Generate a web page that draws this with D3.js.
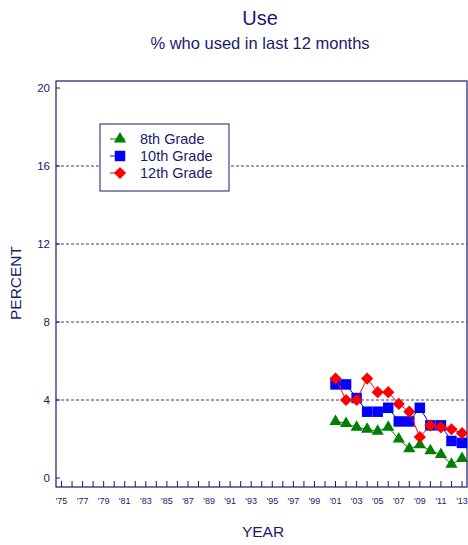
<!DOCTYPE html>
<html>
<head>
<meta charset="utf-8">
<script src="https://cdn.jsdelivr.net/npm/d3@7"></script>
<style>
  body { margin: 0; background: #fff; }
  text { font-family: "Liberation Sans", Arial, sans-serif; fill: #1a1a6e; }
</style>
</head>
<body>
<svg id="chart" width="468" height="545"></svg>
<script>
var years = d3.range(2001, 2014);
var grade8 = [2.9, 2.8, 2.6, 2.5, 2.4, 2.6, 2.0, 1.5, 1.7, 1.4, 1.2, 0.7, 1.0];
var grade10 = [4.8, 4.8, 4.1, 3.4, 3.4, 3.6, 2.9, 2.9, 3.6, 2.7, 2.7, 1.9, 1.8];
var grade12 = [5.1, 4.0, 4.0, 5.1, 4.4, 4.4, 3.8, 3.4, 2.1, 2.7, 2.6, 2.5, 2.3];
var yTicks = [0, 4, 8, 12, 16, 20];
var xLabels = d3.range(1975, 2014, 2);

var series = [
  { name: '8th Grade', values: grade8, color: '#008000', symbol: d3.symbolTriangle, size: 64, rotate: 0 },
  { name: '10th Grade', values: grade10, color: '#0000ff', symbol: d3.symbolSquare, size: 110, rotate: 0 },
  { name: '12th Grade', values: grade12, color: '#ff0000', symbol: d3.symbolSquare, size: 75, rotate: 45 }
];

var navy = '#1a1a6e';
var svg = d3.select('#chart');

var plotLeft = 56, plotRight = 467, plotTop = 81, plotBottom = 487;

var x = d3.scaleLinear().domain([1975, 2013]).range([61.5, 462]);
var y = d3.scaleLinear().domain([0, 20]).range([478, 88]);

// titles
svg.append('text').attr('x', 260).attr('y', 25).attr('text-anchor', 'middle')
    .style('font-size', '20px').text('Use');
svg.append('text').attr('x', 260).attr('y', 49).attr('text-anchor', 'middle')
    .style('font-size', '16.5px').text('% who used in last 12 months');

// gridlines
svg.append('g').selectAll('line')
    .data(yTicks.filter(function(d) { return d > 0 && d < 20; }))
  .enter().append('line')
    .attr('x1', plotLeft).attr('x2', plotRight)
    .attr('y1', function(d) { return y(d); })
    .attr('y2', function(d) { return y(d); })
    .attr('stroke', '#3a3a80')
    .attr('stroke-width', 1)
    .attr('stroke-dasharray', '3,2');

// frame
svg.append('rect')
    .attr('x', plotLeft).attr('y', plotTop)
    .attr('width', plotRight - plotLeft).attr('height', plotBottom - plotTop)
    .attr('fill', 'none').attr('stroke', navy).attr('stroke-width', 1.2);

// y axis ticks and labels
var yg = svg.append('g').attr('transform', 'translate(' + plotLeft + ',0)');
yg.selectAll('line').data(yTicks).enter().append('line')
    .attr('x1', 0).attr('x2', 4)
    .attr('y1', function(d) { return y(d); })
    .attr('y2', function(d) { return y(d); })
    .attr('stroke', navy);
yg.selectAll('text').data(yTicks).enter().append('text')
    .attr('x', -6)
    .attr('y', function(d) { return y(d) + 4; })
    .attr('text-anchor', 'end')
    .style('font-size', '11.5px')
    .text(function(d) { return d; });

// x axis ticks, every year
var xg = svg.append('g');
xg.selectAll('line').data(d3.range(1975, 2014)).enter().append('line')
    .attr('x1', function(d) { return x(d); })
    .attr('x2', function(d) { return x(d); })
    .attr('y1', plotBottom).attr('y2', plotBottom - 6)
    .attr('stroke', navy);
xg.selectAll('text').data(xLabels).enter().append('text')
    .attr('x', function(d) { return x(d); })
    .attr('y', 504)
    .attr('text-anchor', 'middle')
    .style('font-size', '9px')
    .text(function(d) { return "'" + String(d).slice(2); });

svg.append('text').attr('x', 263).attr('y', 537).attr('text-anchor', 'middle')
    .style('font-size', '15.5px').text('YEAR');
svg.append('text')
    .attr('transform', 'translate(21,283) rotate(-90)')
    .attr('text-anchor', 'middle')
    .style('font-size', '15.5px').text('PERCENT');

// series
var line = d3.line()
    .x(function(d, i) { return x(years[i]); })
    .y(function(d) { return y(d); });

series.forEach(function(s) {
  var g = svg.append('g');
  g.append('path')
      .attr('d', line(s.values))
      .attr('fill', 'none')
      .attr('stroke', s.color)
      .attr('stroke-width', 1);
  g.selectAll('path.pt').data(s.values).enter().append('path')
      .attr('class', 'pt')
      .attr('transform', function(d, i) {
        return 'translate(' + x(years[i]) + ',' + y(d) + ') rotate(' + s.rotate + ')';
      })
      .attr('d', d3.symbol().type(s.symbol).size(s.size))
      .attr('fill', s.color);
});

// legend
var lg = svg.append('g').attr('transform', 'translate(100,124)');
lg.append('rect').attr('width', 129).attr('height', 67)
    .attr('fill', '#fff').attr('stroke', navy).attr('stroke-width', 1);
series.forEach(function(s, i) {
  var row = lg.append('g').attr('transform', 'translate(0,' + (15 + i * 17) + ')');
  row.append('line').attr('x1', 10).attr('x2', 25)
      .attr('stroke', s.color).attr('stroke-width', 1);
  row.append('path').attr('transform', 'translate(20,0) rotate(' + s.rotate + ')')
      .attr('d', d3.symbol().type(s.symbol).size(s.size))
      .attr('fill', s.color);
  row.append('text').attr('x', 40).attr('y', 5)
      .style('font-size', '14.5px').text(s.name);
});
</script>
</body>
</html>
